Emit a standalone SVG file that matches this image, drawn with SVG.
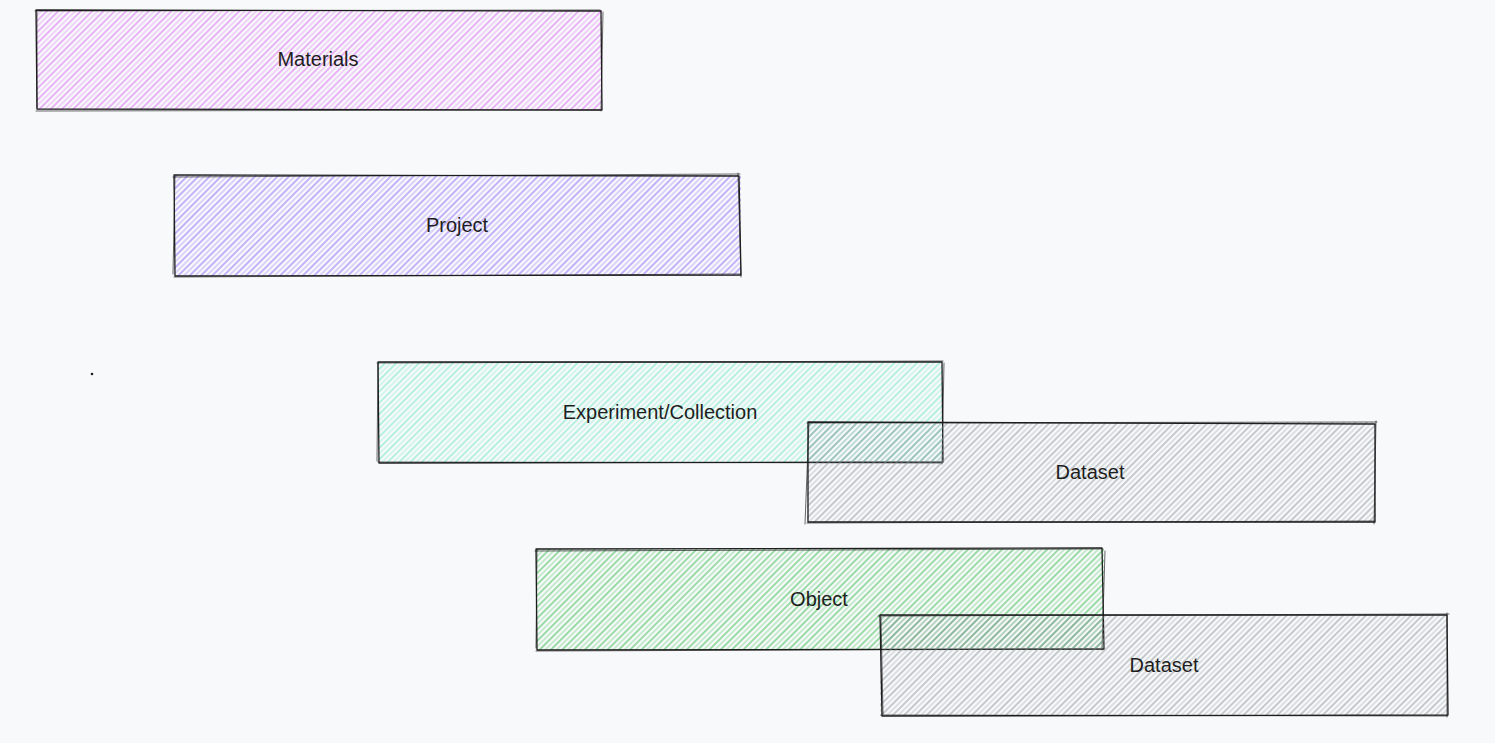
<svg xmlns="http://www.w3.org/2000/svg" width="1495" height="743" viewBox="0 0 1495 743">
<style>
.edge{fill:none;stroke:#1e1e1e;stroke-width:1.3;stroke-linecap:round;stroke-linejoin:round}
.edge2{fill:none;stroke:#1e1e1e;stroke-width:0.9;stroke-linecap:round;opacity:0.75}
.lbl{font-family:"Liberation Sans","DejaVu Sans",sans-serif;font-size:20px;fill:#1e1e1e;text-anchor:middle;dominant-baseline:central}
</style>
<defs>
<pattern id="hv" width="8" height="8" patternUnits="userSpaceOnUse" patternTransform="rotate(45)">
<line x1="1" y1="0" x2="1" y2="8" stroke="#da77f2" stroke-width="1.3" opacity="0.85"/>
<line x1="5" y1="0" x2="5" y2="8" stroke="#da77f2" stroke-width="1" opacity="0.6"/>
</pattern>
<pattern id="hp" width="8" height="8" patternUnits="userSpaceOnUse" patternTransform="rotate(45)">
<line x1="1" y1="0" x2="1" y2="8" stroke="#9775fa" stroke-width="1.3" opacity="0.85"/>
<line x1="5" y1="0" x2="5" y2="8" stroke="#9775fa" stroke-width="1" opacity="0.6"/>
</pattern>
<pattern id="ht" width="8" height="8" patternUnits="userSpaceOnUse" patternTransform="rotate(45)">
<line x1="1" y1="0" x2="1" y2="8" stroke="#63e6be" stroke-width="1.3" opacity="0.7"/>
<line x1="5" y1="0" x2="5" y2="8" stroke="#63e6be" stroke-width="1" opacity="0.5"/>
</pattern>
<pattern id="hg" width="8" height="8" patternUnits="userSpaceOnUse" patternTransform="rotate(45)">
<line x1="1" y1="0" x2="1" y2="8" stroke="#868e96" stroke-width="1.3" opacity="0.7"/>
<line x1="5" y1="0" x2="5" y2="8" stroke="#868e96" stroke-width="1" opacity="0.5"/>
</pattern>
<pattern id="hn" width="8" height="8" patternUnits="userSpaceOnUse" patternTransform="rotate(45)">
<line x1="1" y1="0" x2="1" y2="8" stroke="#40c057" stroke-width="1.3" opacity="0.8"/>
<line x1="5" y1="0" x2="5" y2="8" stroke="#40c057" stroke-width="1" opacity="0.55"/>
</pattern>
</defs>
<rect width="1495" height="743" fill="#f8f9fa"/>

<g id="materials">
<rect x="36" y="10" width="566" height="100" fill="url(#hv)"/>
<path class="edge" d="M36 10 L601 11 L602 110 L37 109 Z"/>
<path class="edge2" d="M35 11 L600 10 M603 12 L601 111 M36 111 L600 110 M37 12 L37 108"/>
<text class="lbl" x="318" y="59">Materials</text>
</g>

<g id="project">
<rect x="174" y="175" width="567" height="101" fill="url(#hp)"/>
<path class="edge" d="M174 175 L739 176 L741 275 L175 276 Z"/>
<path class="edge2" d="M173 177 L740 174 M738 173 L741 277 M174 277 L740 274 M175 176 L173 274"/>
<text class="lbl" x="457" y="225">Project</text>
</g>

<g id="experiment">
<rect x="378" y="362" width="565" height="101" fill="url(#ht)"/>
<path class="edge" d="M378 362 L942 362 L943 462 L379 463 Z"/>
<path class="edge2" d="M377 363 L943 361 M944 363 L942 464 M378 462 L942 463 M378 364 L377 461"/>
<text class="lbl" x="660" y="412">Experiment/Collection</text>
</g>

<g id="dataset1">
<rect x="807" y="422" width="569" height="101" fill="url(#hg)"/>
<path class="edge" d="M808 422 L1375 424 L1375 522 L808 522 Z"/>
<path class="edge2" d="M807 423 L1377 422 M1376 421 L1374 524 M807 523 L1374 521 M809 423 L805 524"/>
<text class="lbl" x="1090" y="472">Dataset</text>
</g>

<g id="object">
<rect x="536" y="549" width="568" height="101" fill="url(#hn)"/>
<path class="edge" d="M536 549 L1102 548 L1104 649 L537 650 Z"/>
<path class="edge2" d="M535 551 L1103 549 M1105 551 L1102 650 M536 651 L1103 649 M537 550 L536 648"/>
<text class="lbl" x="819" y="599">Object</text>
</g>

<g id="dataset2">
<rect x="880" y="615" width="568" height="101" fill="url(#hg)"/>
<path class="edge" d="M880 615 L1447 615 L1448 715 L882 716 Z"/>
<path class="edge2" d="M878 616 L1449 614 M1447 613 L1447 717 M881 715 L1447 716 M881 617 L883 714"/>
<text class="lbl" x="1164" y="665">Dataset</text>
</g>

<g id="connectors"></g>

<circle cx="92" cy="374" r="1.3" fill="#1e1e1e"/>
</svg>
